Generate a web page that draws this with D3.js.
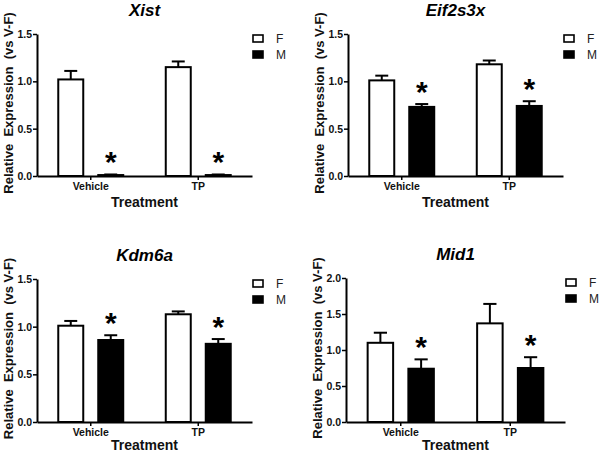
<!DOCTYPE html>
<html>
<head>
<meta charset="utf-8">
<script src="https://cdn.jsdelivr.net/npm/d3@7/dist/d3.min.js"></script>
<style>
  html, body { margin: 0; padding: 0; background: #fff; }
  svg { display: block; }
  text { font-family: "Liberation Sans", Arial, sans-serif; fill: #111; }
</style>
</head>
<body>
<svg id="chart" width="600" height="454"></svg>
<script>
// ---- data ----
const genes = ["Xist", "Eif2s3x", "Kdm6a", "Mid1"];
const treatments = ["Vehicle", "TP"];
const sexes = ["F", "M"];
const yMaxes = [1.5, 1.5, 1.5, 2.0];
const yTickValues = [[0, 0.5, 1.0, 1.5], [0, 0.5, 1.0, 1.5], [0, 0.5, 1.0, 1.5], [0, 0.5, 1.0, 1.5, 2.0]];

const xistF = [1.02, 1.15], xistFErr = [0.09, 0.06];
const xistM = [0.01, 0.01], xistMErr = [0.006, 0.006];
const eifF = [1.01, 1.18], eifFErr = [0.05, 0.04];
const eifM = [0.73, 0.74], eifMErr = [0.03, 0.05];
const kdmF = [1.01, 1.13], kdmFErr = [0.05, 0.03];
const kdmM = [0.86, 0.82], kdmMErr = [0.05, 0.05];
const mid1F = [1.10, 1.37], mid1FErr = [0.14, 0.27];
const mid1M = [0.74, 0.75], mid1MErr = [0.13, 0.15];
const significant = [[false, true], [false, true], [false, true], [false, true]]; // per gene: [F, M]

const means = [[xistF, xistM], [eifF, eifM], [kdmF, kdmM], [mid1F, mid1M]];
const errs = [[xistFErr, xistMErr], [eifFErr, eifMErr], [kdmFErr, kdmMErr], [mid1FErr, mid1MErr]];

const yLabel = "Relative  Expression  (vs V-F)";
const xLabel = "Treatment";

// ---- layout ----
const panels = [
  { x0: 37, x1: 252, yTop: 34, yBot: 176, xlab: 31 },
  { x0: 348, x1: 563, yTop: 34, yBot: 176, xlab: 31 },
  { x0: 37, x1: 252, yTop: 279, yBot: 422, xlab: 28 },
  { x0: 346, x1: 565, yTop: 278, yBot: 422, xlab: 28 }
];

const svg = d3.select("#chart");

genes.forEach((gene, gi) => {
  const p = panels[gi];
  const g = svg.append("g");

  const y = d3.scaleLinear().domain([0, yMaxes[gi]]).range([p.yBot, p.yTop]);
  const x0 = d3.scaleBand().domain(treatments).range([p.x0, p.x1])
    .paddingInner(0.377).paddingOuter(0.1885);
  const x1 = d3.scaleBand().domain(sexes).range([0, x0.bandwidth()])
    .paddingInner(0.325).paddingOuter(0);

  const rows = [];
  treatments.forEach((t, ti) => {
    sexes.forEach((s, si) => {
      rows.push({ t, s, v: means[gi][si][ti], e: errs[gi][si][ti], sig: significant[gi][si] });
    });
  });

  const bw = x1.bandwidth();
  const capW = bw * 0.48;

  // error bars (upward only)
  const eg = g.append("g");
  rows.forEach(r => {
    const cx = x0(r.t) + x1(r.s) + bw / 2;
    eg.append("line")
      .attr("x1", cx).attr("x2", cx)
      .attr("y1", y(r.v)).attr("y2", y(r.v + r.e))
      .attr("stroke", "#000").attr("stroke-width", 2);
    eg.append("line")
      .attr("x1", cx - capW / 2).attr("x2", cx + capW / 2)
      .attr("y1", y(r.v + r.e)).attr("y2", y(r.v + r.e))
      .attr("stroke", "#000").attr("stroke-width", 2);
  });

  // bars
  g.append("g").selectAll("rect").data(rows).join("rect")
    .attr("x", d => x0(d.t) + x1(d.s) + 1)
    .attr("y", d => y(d.v))
    .attr("width", bw - 2)
    .attr("height", d => Math.max(0, y(0) - y(d.v)))
    .attr("fill", d => d.s === "F" ? "#fff" : "#000")
    .attr("stroke", "#000").attr("stroke-width", 2);

  // asterisks
  g.append("g").selectAll("text").data(rows.filter(r => r.sig)).join("text")
    .attr("x", d => x0(d.t) + x1(d.s) + bw / 2)
    .attr("y", d => y(d.v + d.e) - 2)
    .attr("text-anchor", "middle")
    .attr("font-size", 30).attr("font-weight", "bold")
    .style("fill", "#000")
    .text("*");

  // y axis
  const yAxis = d3.axisLeft(y).tickValues(yTickValues[gi]).tickFormat(d3.format(".1f"))
    .tickSizeInner(4).tickSizeOuter(0).tickPadding(1);
  const ya = g.append("g").attr("transform", `translate(${p.x0},0)`).call(yAxis);
  ya.select(".domain").attr("stroke", "#000").attr("stroke-width", 2);
  ya.selectAll(".tick line").attr("stroke", "#000").attr("stroke-width", 1.5);
  ya.selectAll(".tick text").attr("font-size", 10.5).attr("font-weight", "bold")
    .attr("font-family", "Liberation Sans, Arial, sans-serif").style("fill", "#111");

  // x axis
  const xAxis = d3.axisBottom(x0).tickSizeInner(4).tickSizeOuter(0).tickPadding(3);
  const xa = g.append("g").attr("transform", `translate(0,${p.yBot})`).call(xAxis);
  xa.select(".domain").attr("stroke", "#000").attr("stroke-width", 2);
  xa.selectAll(".tick line").attr("stroke", "#000").attr("stroke-width", 1.5);
  xa.selectAll(".tick text").attr("font-size", 10.5).attr("font-weight", "bold")
    .attr("font-family", "Liberation Sans, Arial, sans-serif").style("fill", "#111");

  // title
  g.append("text")
    .attr("x", (p.x0 + p.x1) / 2).attr("y", p.yTop - 18)
    .attr("text-anchor", "middle")
    .attr("font-size", 17).attr("font-weight", "bold").attr("font-style", "italic")
    .style("fill", "#000")
    .text(gene);

  // x label
  g.append("text")
    .attr("x", (p.x0 + p.x1) / 2).attr("y", p.yBot + p.xlab)
    .attr("text-anchor", "middle")
    .attr("font-size", 14).attr("font-weight", "bold")
    .text(xLabel);

  // y label
  g.append("text")
    .attr("transform", `translate(${p.x0 - 24},${(p.yTop + p.yBot) / 2 - 2}) rotate(-90)`)
    .attr("text-anchor", "middle")
    .attr("font-size", 13).attr("font-weight", "bold")
    .attr("xml:space", "preserve")
    .style("white-space", "pre")
    .text(yLabel);

  // legend
  const lg = g.append("g").attr("transform", `translate(${p.x1 + 1},${p.yTop})`);
  sexes.forEach((s, si) => {
    lg.append("rect")
      .attr("x", 0).attr("y", 1 + si * 16)
      .attr("width", 10).attr("height", 7)
      .attr("fill", s === "F" ? "#fff" : "#000")
      .attr("stroke", "#000").attr("stroke-width", 1.6);
    lg.append("text")
      .attr("x", 23).attr("y", 9 + si * 16)
      .attr("font-size", 12)
      .style("fill", "#222")
      .text(s);
  });
});
</script>
</body>
</html>
